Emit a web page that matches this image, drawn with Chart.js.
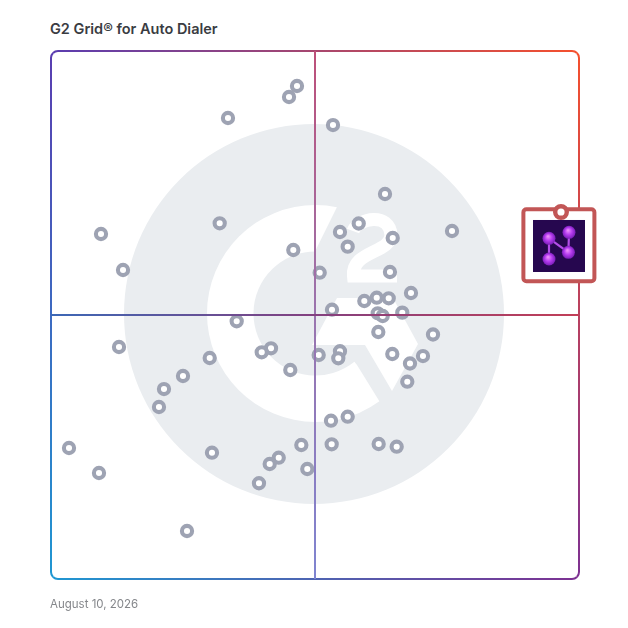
<!DOCTYPE html>
<html>
<head>
<meta charset="utf-8">
<title>G2 Grid for Auto Dialer</title>
<script src="https://cdn.jsdelivr.net/npm/chart.js@4"></script>
<style>
    html, body { margin: 0; padding: 0; background: #fff; }
    #wrap { position: relative; width: 628px; height: 628px; overflow: hidden; }
    #gridChart { position: absolute; left: 0; top: 0; }
    #title { position: absolute; left: 50px; top: 20px; font: 600 14.5px/18px Inter, sans-serif; color: #3a3c42; white-space: nowrap; }
    #date { position: absolute; left: 50px; top: 596px; font: 400 11.5px/16px Inter, sans-serif; color: #85878b; white-space: nowrap; }
</style>
</head>
<body>
<div id="wrap">
    <div id="title">G2 Grid® for Auto Dialer</div>
    <canvas id="gridChart" width="628" height="628"></canvas>
    <div id="date">August 10, 2026</div>
</div>
<script>
// market presence (x) and satisfaction (y), both 0-100
const productX = [46.59, 45.08, 33.52, 53.41, 63.26, 31.95, 58.28, 54.73, 9.47, 64.72, 75.95, 56.19, 45.89, 50.89,
    64.20, 13.64, 68.18, 61.69, 63.96, 59.34, 53.22, 61.88, 62.82, 66.53, 35.17, 61.99, 72.35, 12.88, 41.67, 39.91,
    54.73, 50.70, 54.41, 64.64, 70.45, 67.99, 30.06, 45.32, 25.00, 67.48, 21.40, 20.45, 56.19, 53.03, 47.41, 53.16,
    62.06, 65.47, 3.41, 30.49, 43.13, 41.42, 48.54, 9.09, 39.39, 25.76];
const productY = [93.37, 91.29, 87.31, 85.98, 72.92, 67.37, 67.33, 65.72, 65.34, 64.58, 65.91, 62.94, 62.31, 58.01,
    58.14, 58.52, 54.17, 53.28, 53.16, 52.65, 51.00, 50.32, 49.81, 50.44, 48.81, 46.78, 46.31, 43.94, 43.69, 42.94,
    43.13, 42.42, 41.80, 42.61, 42.23, 40.81, 41.86, 39.58, 38.45, 37.37, 35.98, 32.58, 30.74, 29.98, 25.38, 25.51,
    25.57, 25.06, 24.81, 23.92, 22.97, 21.78, 20.83, 20.08, 18.13, 9.09];
const featuredX = [96.59];
const featuredY = [69.51];
const medianX = [50, 50];
const medianY = [0, 100];
const medianLineX = [0, 100];
const medianLineY = [50, 50];

function toPoints(xs, ys) {
    return xs.map((x, i) => ({ x: x, y: ys[i] }));
}

function lineGradient(ctx, x0, y0, x1, y1, stops) {
    const g = ctx.createLinearGradient(x0, y0, x1, y1);
    stops.forEach((c, i) => g.addColorStop(i / (stops.length - 1), c));
    return g;
}

const TL = '#5a3db0', TR = '#f5502d', BL = '#1f97d2', BR = '#7d3192';

// watermark logo and the coloured frame, drawn behind the points
const backdrop = {
    id: 'backdrop',
    beforeDatasetsDraw(chart) {
        const ctx = chart.ctx;
        const a = chart.chartArea;
        ctx.save();

        ctx.fillStyle = '#eaedf0';
        ctx.beginPath();
        ctx.arc(314, 314, 190, 0, Math.PI * 2);
        ctx.fill();

        // G ring
        ctx.fillStyle = '#fff';
        ctx.beginPath();
        ctx.moveTo(337, 207);
        ctx.arc(315.5, 313.5, 108.5, Math.atan2(207 - 313.5, 337 - 315.5), Math.atan2(402 - 313.5, 380 - 315.5), true);
        ctx.lineTo(357, 365);
        ctx.arc(315.5, 313.5, 62, Math.atan2(365 - 313.5, 357 - 315.5), Math.atan2(252 - 313.5, 315 - 315.5), false);
        ctx.closePath();
        ctx.fill();

        // arrow part of the logo
        ctx.beginPath();
        ctx.moveTo(337, 298);
        ctx.lineTo(393, 298);
        ctx.lineTo(418, 344);
        ctx.lineTo(392, 391);
        ctx.lineTo(365, 345);
        ctx.lineTo(312, 345);
        ctx.closePath();
        ctx.fill();

        // the small 2
        ctx.strokeStyle = '#fff';
        ctx.lineWidth = 13;
        ctx.lineJoin = 'miter';
        ctx.beginPath();
        ctx.moveTo(353, 231);
        ctx.bezierCurveTo(358, 218, 390, 212, 391, 235);
        ctx.bezierCurveTo(391, 253, 351, 251, 353.5, 276);
        ctx.lineTo(397, 276);
        ctx.stroke();

        // frame, one gradient per side
        const r = 7;
        ctx.lineWidth = 2;
        ctx.lineCap = 'butt';
        ctx.strokeStyle = lineGradient(ctx, a.left, 0, a.right, 0, [TL, TR]);
        ctx.beginPath();
        ctx.arc(a.left + r, a.top + r, r, Math.PI * 1.25, Math.PI * 1.5);
        ctx.lineTo(a.right - r, a.top);
        ctx.arc(a.right - r, a.top + r, r, Math.PI * 1.5, Math.PI * 1.75);
        ctx.stroke();
        ctx.strokeStyle = lineGradient(ctx, 0, a.top, 0, a.bottom, [TR, BR]);
        ctx.beginPath();
        ctx.arc(a.right - r, a.top + r, r, Math.PI * 1.75, 0);
        ctx.lineTo(a.right, a.bottom - r);
        ctx.arc(a.right - r, a.bottom - r, r, 0, Math.PI * 0.25);
        ctx.stroke();
        ctx.strokeStyle = lineGradient(ctx, a.left, 0, a.right, 0, [BL, BR]);
        ctx.beginPath();
        ctx.arc(a.right - r, a.bottom - r, r, Math.PI * 0.25, Math.PI * 0.5);
        ctx.lineTo(a.left + r, a.bottom);
        ctx.arc(a.left + r, a.bottom - r, r, Math.PI * 0.5, Math.PI * 0.75);
        ctx.stroke();
        ctx.strokeStyle = lineGradient(ctx, 0, a.top, 0, a.bottom, [TL, BL]);
        ctx.beginPath();
        ctx.arc(a.left + r, a.bottom - r, r, Math.PI * 0.75, Math.PI);
        ctx.lineTo(a.left, a.top + r);
        ctx.arc(a.left + r, a.top + r, r, Math.PI, Math.PI * 1.25);
        ctx.stroke();

        drawFeatured(ctx, chart);
        ctx.restore();
    }
};

// red box with the product logo, hung under the featured point
function drawFeatured(ctx, chart) {
    const p = chart.getDatasetMeta(3).data[0];
    const ox = p.x - 561.3, oy = p.y - 212;
    ctx.translate(ox, oy);

    ctx.beginPath();
    ctx.roundRect(523.7, 209.3, 71, 72, 3);
    ctx.fillStyle = '#fff';
    ctx.fill();
    ctx.lineWidth = 4;
    ctx.strokeStyle = '#c25656';
    ctx.stroke();

    ctx.fillStyle = '#26074f';
    ctx.fillRect(533.3, 220, 52, 52);

    const balls = [[549.3, 238.3], [569.3, 232.3], [568.7, 252.3], [549.3, 259]];
    const bonds = [[0, 2], [0, 3], [1, 2]];
    ctx.strokeStyle = '#b34ee8';
    ctx.lineWidth = 2.2;
    bonds.forEach(b => {
        ctx.beginPath();
        ctx.moveTo(balls[b[0]][0], balls[b[0]][1]);
        ctx.lineTo(balls[b[1]][0], balls[b[1]][1]);
        ctx.stroke();
    });
    balls.forEach(b => {
        const g = ctx.createRadialGradient(b[0] - 1, b[1] - 2, 0.5, b[0], b[1], 6.5);
        g.addColorStop(0, '#ea8cfb');
        g.addColorStop(0.5, '#b63df0');
        g.addColorStop(1, '#7a1db8');
        ctx.fillStyle = g;
        ctx.beginPath();
        ctx.arc(b[0], b[1], 6.5, 0, Math.PI * 2);
        ctx.fill();
    });
    ctx.translate(-ox, -oy);
}

new Chart(document.getElementById('gridChart').getContext('2d'), {
    type: 'scatter',
    data: {
        datasets: [
            {
                data: toPoints(medianLineX, medianLineY),
                showLine: true,
                pointRadius: 0,
                borderWidth: 2,
                borderColor: c => lineGradient(c.chart.ctx, 51, 0, 579, 0, ['#3c68b6', '#84407f', '#c23f57'])
            },
            {
                data: toPoints(medianX, medianY),
                showLine: true,
                pointRadius: 0,
                borderWidth: 2,
                borderColor: c => lineGradient(c.chart.ctx, 0, 51, 0, 579, ['#bd5079', '#9a74ae', '#7f84d0'])
            },
            {
                data: toPoints(productX, productY),
                pointRadius: 5.1,
                pointBorderWidth: 4.1,
                pointBackgroundColor: '#fff',
                pointBorderColor: '#9ea3b3',
                borderWidth: 4.1
            },
            {
                data: toPoints(featuredX, featuredY),
                pointRadius: 5.8,
                pointBorderWidth: 4.4,
                pointBackgroundColor: '#fff',
                pointBorderColor: '#c25656',
                borderWidth: 4.4
            }
        ]
    },
    options: {
        responsive: false,
        animation: false,
        devicePixelRatio: 1,
        layout: { padding: { left: 51, top: 51, right: 49, bottom: 49 } },
        plugins: { legend: { display: false }, tooltip: { enabled: false } },
        scales: {
            x: { display: false, min: 0, max: 100 },
            y: { display: false, min: 0, max: 100 }
        }
    },
    plugins: [backdrop]
});
</script>
</body>
</html>
